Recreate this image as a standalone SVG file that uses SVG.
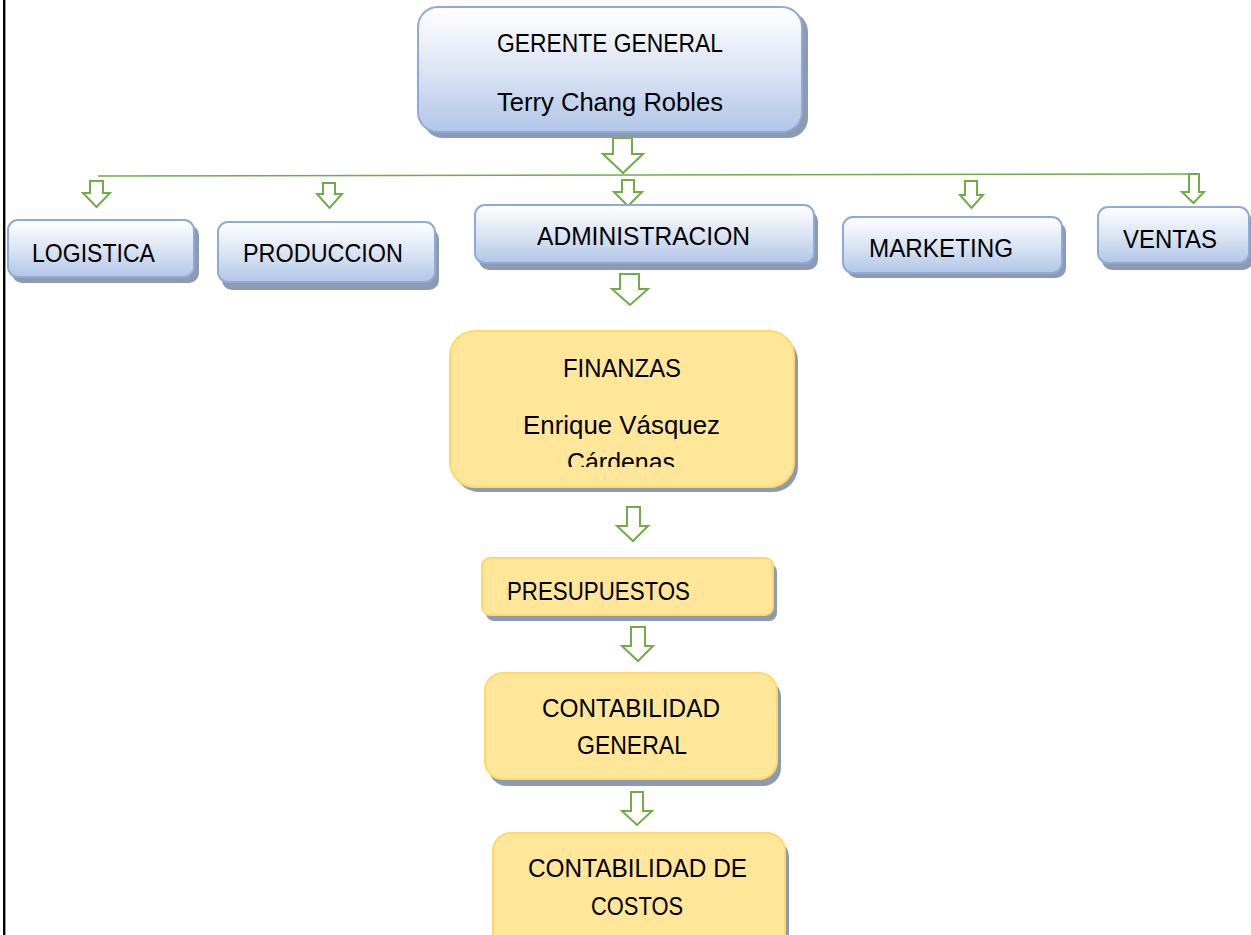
<svg xmlns="http://www.w3.org/2000/svg" width="1251" height="935" viewBox="0 0 1251 935">
<style>
  .blue { fill: url(#gBlue); stroke: #8eaadb; stroke-width: 2; }
  .gold { fill: #ffe699; stroke: #ffd966; stroke-width: 2; }
  .shadow { fill: #8d9ab2; }
  .t { font-family: "Liberation Sans", Arial, sans-serif; font-size: 25px; fill: #000; text-anchor: middle; }
  .arrow { fill: #ffffff; stroke: #70ad47; stroke-width: 2; stroke-linejoin: miter; }
  .line { stroke: #70ad47; stroke-width: 1.5; fill: none; }
</style>
<defs>
  <linearGradient id="gBlue" x1="0" y1="0" x2="0" y2="1">
    <stop offset="0" stop-color="#ffffff"/>
    <stop offset="0.5" stop-color="#dce5f4"/>
    <stop offset="1" stop-color="#b2c6e7"/>
  </linearGradient>
  <clipPath id="finClip">
    <rect x="440" y="320" width="370" height="147"/>
  </clipPath>
</defs>
<rect x="0" y="0" width="1251" height="935" fill="#ffffff"/>
<line x1="4.2" y1="0" x2="4.2" y2="935" stroke="#000" stroke-width="2.4"/>

<g id="connectors">
  <line class="line" x1="98" y1="176" x2="1199" y2="174"/>
  <polygon class="arrow" points="613,138 632,138 632,154 643,154 623,173 603,154 613,154"/>
  <polygon class="arrow" points="622,180 634,180 634,192 642,192 628,206 614,192 622,192"/>
  <polygon class="arrow" points="90,181 103,181 103,193 110,193 96.5,207 83,193 90,193"/>
  <polygon class="arrow" points="323,183 335,183 335,194 342,194 329.5,208 317,194 323,194"/>
  <polygon class="arrow" points="965,181 977,181 977,195 983,195 971.5,208 960,195 965,195"/>
  <polygon class="arrow" points="1189,174 1199,174 1199,192 1204,192 1193.5,203 1182,192 1189,192"/>
  <polygon class="arrow" points="620,274 639,274 639,289 648,289 630,305 612,289 620,289"/>
  <polygon class="arrow" points="627,507 640,507 640,526 648,526 633,541 617,526 627,526"/>
  <polygon class="arrow" points="631,627 645,627 645,646 653,646 638,661 622,646 631,646"/>
  <polygon class="arrow" points="631,792 643,792 643,811 652,811 637,825 622,811 631,811"/>
</g>

<g id="gerente">
  <rect class="shadow" x="423" y="12" width="385" height="126" rx="20"/>
  <rect class="blue" x="418" y="7" width="384" height="125" rx="20"/>
  <text class="t" x="610" y="52" textLength="226" lengthAdjust="spacingAndGlyphs">GERENTE GENERAL</text>
  <text class="t" x="610" y="111" textLength="226" lengthAdjust="spacingAndGlyphs">Terry Chang Robles</text>
</g>

<g id="logistica">
  <rect class="shadow" x="12" y="225" width="187" height="58" rx="10"/>
  <rect class="blue" x="8" y="220" width="186" height="57" rx="10"/>
  <text class="t" x="93.5" y="262" textLength="123" lengthAdjust="spacingAndGlyphs">LOGISTICA</text>
</g>

<g id="produccion">
  <rect class="shadow" x="222" y="229" width="217" height="61" rx="10"/>
  <rect class="blue" x="218" y="222" width="217" height="60" rx="10"/>
  <text class="t" x="323" y="262" textLength="160" lengthAdjust="spacingAndGlyphs">PRODUCCION</text>
</g>

<g id="administracion">
  <rect class="shadow" x="479" y="211" width="339" height="59" rx="10"/>
  <rect class="blue" x="475" y="205" width="339" height="58" rx="10"/>
  <text class="t" x="643.5" y="245" textLength="213" lengthAdjust="spacingAndGlyphs">ADMINISTRACION</text>
</g>

<g id="marketing">
  <rect class="shadow" x="847" y="222" width="219" height="56" rx="10"/>
  <rect class="blue" x="843" y="217" width="219" height="56" rx="10"/>
  <text class="t" x="941" y="257" textLength="144" lengthAdjust="spacingAndGlyphs">MARKETING</text>
</g>

<g id="ventas">
  <rect class="shadow" x="1102" y="213" width="151" height="57" rx="10"/>
  <rect class="blue" x="1098" y="207" width="151" height="56" rx="10"/>
  <text class="t" x="1170" y="248" textLength="94" lengthAdjust="spacingAndGlyphs">VENTAS</text>
</g>

<g id="finanzas">
  <rect class="shadow" x="454" y="336" width="344" height="156" rx="25"/>
  <rect class="gold" x="450" y="331" width="344" height="156" rx="25"/>
  <text class="t" x="622" y="377" textLength="118" lengthAdjust="spacingAndGlyphs">FINANZAS</text>
  <text class="t" x="621.5" y="434" textLength="197" lengthAdjust="spacingAndGlyphs">Enrique Vásquez</text>
  <text class="t" x="621" y="471" textLength="108" lengthAdjust="spacingAndGlyphs" clip-path="url(#finClip)">Cárdenas</text>
</g>

<g id="presupuestos">
  <rect class="shadow" x="486" y="564" width="291" height="57" rx="8"/>
  <rect class="gold" x="482" y="558" width="291" height="57" rx="8"/>
  <text class="t" x="598.5" y="600" textLength="183" lengthAdjust="spacingAndGlyphs">PRESUPUESTOS</text>
</g>

<g id="contabilidad-general">
  <rect class="shadow" x="489" y="679" width="292" height="107" rx="18"/>
  <rect class="gold" x="485" y="673" width="292" height="106" rx="18"/>
  <text class="t" x="631" y="717" textLength="178" lengthAdjust="spacingAndGlyphs">CONTABILIDAD</text>
  <text class="t" x="632" y="754" textLength="110" lengthAdjust="spacingAndGlyphs">GENERAL</text>
</g>

<g id="contabilidad-costos">
  <rect class="shadow" x="497" y="839" width="292" height="120" rx="18"/>
  <rect class="gold" x="493" y="833" width="292" height="120" rx="18"/>
  <text class="t" x="637.5" y="877" textLength="219" lengthAdjust="spacingAndGlyphs">CONTABILIDAD DE</text>
  <text class="t" x="637" y="915" textLength="92" lengthAdjust="spacingAndGlyphs">COSTOS</text>
</g>
</svg>
